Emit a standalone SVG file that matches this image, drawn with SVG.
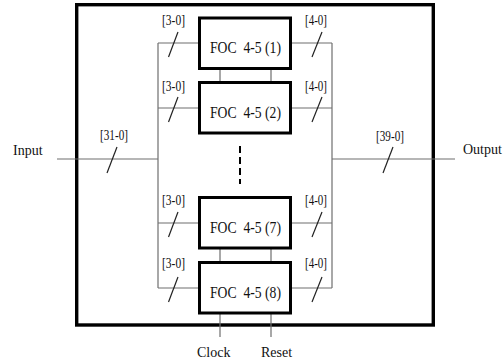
<svg xmlns="http://www.w3.org/2000/svg" width="503" height="362" viewBox="0 0 503 362">
<style>
.wire{stroke:#6e6e6e;stroke-width:1.2;fill:none}
.slash{stroke:#222;stroke-width:1.2;fill:none}
.box{fill:#fff;stroke:#000;stroke-width:3}
.outer{fill:none;stroke:#000;stroke-width:3.4}
text{font-family:"Liberation Serif","Times New Roman",serif;fill:#111}
.foc{font-size:17px}
.lbl{font-size:14px}
.io{font-size:14px}
</style>
<rect width="503" height="362" fill="#fff"/>
<rect class="outer" x="76.7" y="4.7" width="356.6" height="320.3"/>
<g id="connectors">
  <line class="wire" x1="57" y1="159" x2="158" y2="159"/>
  <line class="wire" x1="332" y1="159" x2="455" y2="159"/>
  <line class="wire" x1="158" y1="43" x2="158" y2="288"/>
  <line class="wire" x1="332" y1="43" x2="332" y2="288"/>
  <line class="wire" x1="158" y1="43" x2="199" y2="43"/>
  <line class="wire" x1="158" y1="108" x2="199" y2="108"/>
  <line class="wire" x1="158" y1="223" x2="199" y2="223"/>
  <line class="wire" x1="158" y1="288" x2="199" y2="288"/>
  <line class="wire" x1="291" y1="43" x2="332" y2="43"/>
  <line class="wire" x1="291" y1="108" x2="332" y2="108"/>
  <line class="wire" x1="291" y1="223" x2="332" y2="223"/>
  <line class="wire" x1="291" y1="288" x2="332" y2="288"/>
  <line class="wire" x1="220" y1="68" x2="220" y2="83"/>
  <line class="wire" x1="271" y1="68" x2="271" y2="83"/>
  <line class="wire" x1="220" y1="248" x2="220" y2="263"/>
  <line class="wire" x1="271" y1="248" x2="271" y2="263"/>
  <line class="wire" x1="220" y1="313" x2="220" y2="337"/>
  <line class="wire" x1="271" y1="313" x2="271" y2="337"/>
  <line x1="240" y1="146" x2="240" y2="184" stroke="#000" stroke-width="2" stroke-dasharray="7 4"/>
  <line class="slash" x1="117" y1="147" x2="107" y2="173"/>
  <line class="slash" x1="393" y1="147" x2="383" y2="173"/>
  <line class="slash" x1="178" y1="32" x2="168.5" y2="57"/>
  <line class="slash" x1="178" y1="97" x2="168.5" y2="122"/>
  <line class="slash" x1="178" y1="212" x2="168.5" y2="237"/>
  <line class="slash" x1="178" y1="277" x2="168.5" y2="302"/>
  <line class="slash" x1="322" y1="32" x2="312" y2="57"/>
  <line class="slash" x1="322" y1="97" x2="312" y2="122"/>
  <line class="slash" x1="322" y1="212" x2="312" y2="237"/>
  <line class="slash" x1="322" y1="277" x2="312" y2="302"/>
  <text class="lbl" x="100" y="140" textLength="28" lengthAdjust="spacingAndGlyphs">[31-0]</text>
  <text class="lbl" x="376" y="140.5" textLength="28" lengthAdjust="spacingAndGlyphs">[39-0]</text>
  <text class="lbl" x="162" y="25" textLength="23" lengthAdjust="spacingAndGlyphs">[3-0]</text>
  <text class="lbl" x="162" y="91" textLength="23" lengthAdjust="spacingAndGlyphs">[3-0]</text>
  <text class="lbl" x="162" y="205" textLength="23" lengthAdjust="spacingAndGlyphs">[3-0]</text>
  <text class="lbl" x="162" y="268" textLength="23" lengthAdjust="spacingAndGlyphs">[3-0]</text>
  <text class="lbl" x="305" y="25" textLength="22" lengthAdjust="spacingAndGlyphs">[4-0]</text>
  <text class="lbl" x="305" y="91" textLength="22" lengthAdjust="spacingAndGlyphs">[4-0]</text>
  <text class="lbl" x="305" y="205" textLength="22" lengthAdjust="spacingAndGlyphs">[4-0]</text>
  <text class="lbl" x="305" y="268" textLength="22" lengthAdjust="spacingAndGlyphs">[4-0]</text>
</g>
<g id="input"><text class="io" x="13" y="155">Input</text></g>
<g id="output"><text class="io" x="463" y="154">Output</text></g>
<g id="clock"><text class="io" x="197" y="357">Clock</text></g>
<g id="reset"><text class="io" x="261" y="357">Reset</text></g>
<g id="foc1"><rect class="box" x="199.5" y="18" width="91" height="50.5"/><text class="foc" x="210" y="53" textLength="71" lengthAdjust="spacingAndGlyphs" xml:space="preserve">FOC  4-5 (1)</text></g>
<g id="foc2"><rect class="box" x="199.5" y="82.5" width="91" height="50.5"/><text class="foc" x="210" y="117.5" textLength="71" lengthAdjust="spacingAndGlyphs" xml:space="preserve">FOC  4-5 (2)</text></g>
<g id="foc7"><rect class="box" x="199.5" y="197.5" width="91" height="50.5"/><text class="foc" x="210" y="232.5" textLength="71" lengthAdjust="spacingAndGlyphs" xml:space="preserve">FOC  4-5 (7)</text></g>
<g id="foc8"><rect class="box" x="199.5" y="262.5" width="91" height="50.5"/><text class="foc" x="210" y="297.5" textLength="71" lengthAdjust="spacingAndGlyphs" xml:space="preserve">FOC  4-5 (8)</text></g>
</svg>
